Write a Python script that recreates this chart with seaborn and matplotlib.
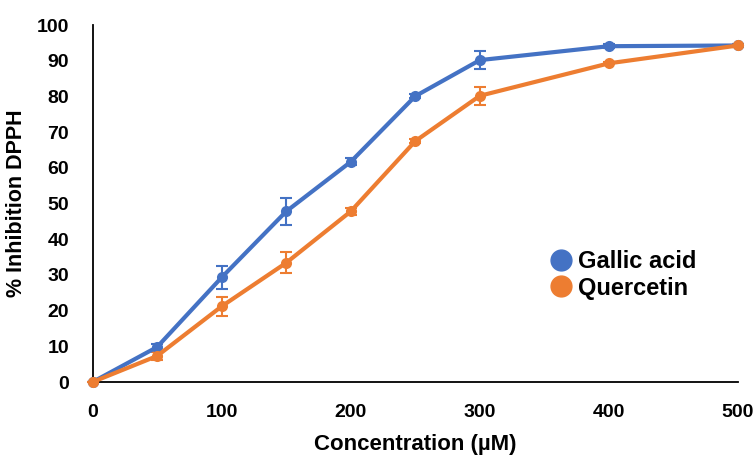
import pandas as pd
import numpy as np
import matplotlib
matplotlib.use("Agg")
import matplotlib.pyplot as plt
import seaborn as sns

concentration = [0, 50, 100, 150, 200, 250, 300, 400, 500]
gallic_mean = [0.0, 9.8, 29.3, 47.8, 61.7, 80.1, 90.2, 94.1, 94.3]
gallic_err = [0.0, 1.0, 3.3, 3.7, 1.0, 0.6, 2.5, 0.5, 0.3]
quercetin_mean = [0.0, 7.3, 21.2, 33.4, 47.8, 67.5, 80.2, 89.3, 94.3]
quercetin_err = [0.0, 1.0, 2.6, 2.9, 1.0, 0.5, 2.6, 0.3, 0.3]

BLUE = "#4472C4"
ORANGE = "#ED7D31"

df = pd.DataFrame({
    "conc": concentration * 2,
    "inhibition": gallic_mean + quercetin_mean,
    "err": gallic_err + quercetin_err,
    "compound": ["Gallic acid"] * len(concentration) + ["Quercetin"] * len(concentration),
})

sns.set_style("white")
plt.rcParams["font.family"] = ["Liberation Sans", "DejaVu Sans"]
plt.rcParams["font.weight"] = "bold"
plt.rcParams["text.color"] = "black"
plt.rcParams["axes.labelcolor"] = "black"
plt.rcParams["xtick.color"] = "black"
plt.rcParams["ytick.color"] = "black"

fig = plt.figure(figsize=(7.54, 4.57), dpi=100)
ax = fig.add_axes([0.1227, 0.164, 0.8561, 0.781])

palette = {"Gallic acid": BLUE, "Quercetin": ORANGE}
sns.lineplot(data=df, x="conc", y="inhibition", hue="compound", palette=palette,
             marker="o", markersize=8, markeredgewidth=0, linewidth=3,
             ax=ax, legend=False, clip_on=False, zorder=3)

# error bars (SD) in the same colour as the series
for name, color in palette.items():
    sub = df[df["compound"] == name]
    ax.errorbar(sub["conc"], sub["inhibition"], yerr=sub["err"], fmt="none",
                ecolor=color, elinewidth=1.5, capsize=4, capthick=1.5,
                clip_on=False, zorder=2)

ax.set_xlim(0, 500)
ax.set_ylim(0, 100)
ax.set_xticks(range(0, 501, 100))
ax.set_yticks(range(0, 101, 10))
ax.tick_params(axis="both", length=0, labelsize=14)
ax.tick_params(axis="y", pad=17)
ax.tick_params(axis="x", pad=16)
for lab in ax.get_xticklabels() + ax.get_yticklabels():
    lab.set_fontweight("bold")

ax.set_xlabel("Concentration (µM)", fontsize=16, fontweight="bold", labelpad=9)
ax.set_ylabel("% Inhibition DPPH", fontsize=15.5, fontweight="bold", labelpad=7)

sns.despine(ax=ax)
for side in ("left", "bottom"):
    ax.spines[side].set_color("black")
    ax.spines[side].set_linewidth(1.3)

handles = [plt.Line2D([], [], marker="o", linestyle="none", markersize=15,
                      markerfacecolor=c, markeredgecolor=c) for c in palette.values()]
ax.legend(handles, list(palette.keys()), loc="center left",
          bbox_to_anchor=(0.704, 0.3), frameon=False,
          prop={"size": 17, "weight": "bold"}, handletextpad=0.1,
          labelspacing=0.15, handlelength=1.2, borderaxespad=0, borderpad=0)

fig.savefig("out.png", dpi=100)
